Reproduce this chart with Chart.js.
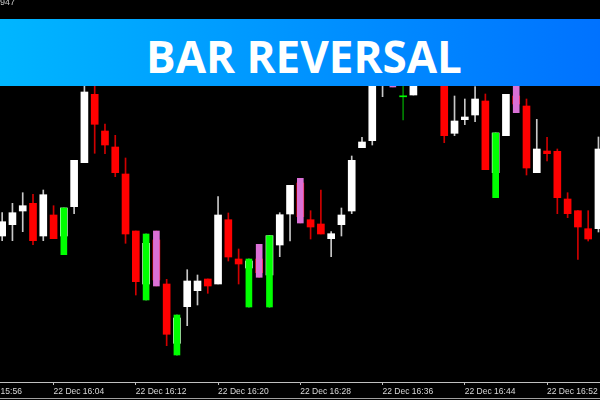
<!DOCTYPE html>
<html>
<head>
<meta charset="utf-8">
<script src="https://cdn.jsdelivr.net/npm/chart.js@4.4.1/dist/chart.umd.min.js"></script>
<style>
	body { margin: 0; background: #000; }
	#wrap { position: relative; width: 600px; height: 400px; overflow: hidden; background: #000; }
	#mycanvas { position: absolute; left: 0; top: 0; }
	#price { position: absolute; left: 0; top: -3px; font: 9px 'Liberation Sans', sans-serif; color: #c8c8c8; }
	#banner { position: absolute; left: 0; top: 19px; width: 600px; height: 67px; background: linear-gradient(to right, #00b6ff, #0090ff 55%, #0072ff); }
	#title { position: absolute; left: 0; width: 600px; top: 26px; line-height: 44px; text-align: center; padding-left: 8px; box-sizing: border-box;
		font: 700 44px 'Open Sans', sans-serif; color: #fff; }
	#bottomline { position: absolute; left: 0; top: 398px; width: 600px; height: 1px; background: #a0a0a0; }
</style>
</head>
<body>
<div id="wrap">
	<canvas id="mycanvas" width="600" height="400"></canvas>
	<div id="price">947</div>
	<div id="banner"></div>
	<div id="title">BAR REVERSAL</div>
	<div id="bottomline"></div>
</div>
<script>
// M1 bars, 22 Dec 15:59 - 16:57
var times = ["15:59","16:00","16:01","16:02","16:03","16:04","16:05","16:06","16:07","16:08",
	"16:09","16:10","16:11","16:12","16:13","16:14","16:15","16:16","16:17","16:18",
	"16:19","16:20","16:21","16:22","16:23","16:24","16:25","16:26","16:27","16:28",
	"16:29","16:30","16:31","16:32","16:33","16:34","16:35","16:36","16:37","16:38",
	"16:39","16:40","16:41","16:42","16:43","16:44","16:45","16:46","16:47","16:48",
	"16:49","16:50","16:51","16:52","16:53","16:54","16:55","16:56","16:57"];

var open = [146,157.3,171,178.7,146,167,146,175.3,219.3,287.7,
	251,235,208,151,98,142,98,38.7,75.3,91.3,
	103,98,162.3,123,114,123,107,137,168,199,
	162.3,158,143.3,157.3,171,234.3,241.3,300,325,285.7,
	287,305,315,300,248.7,262.3,267,281,209.3,246.3,
	286,276,209.3,231,230.7,183,171.3,153.3,153.3];

var high = [169.3,178.7,189.3,187.7,192,176.3,174,221.7,300,298,
	258,246.7,224,151,148,151,102.7,67,112.3,107,
	103,185.3,169,133,123,137.7,146.3,169.3,196.7,203.7,
	171.3,192,150.3,174,226,244.7,305,320,332,310,
	310,322,320,305,286,283,295.3,288,249,287.7,
	300,283,262.7,244.7,233,189.3,171.3,171.3,245];

var low = [141.3,141.3,150.3,137.3,141.3,143.3,127.3,168.3,219.3,228.7,
	228.3,205.3,138.7,87,82,96,36.3,27,56.3,77,
	88.7,98,121,98,75,104.7,75,125.3,141,159,
	143,148,125.3,146,168.3,234.3,237,285.3,295,262,
	287,300,298,239.3,246.3,257.3,260.3,212.3,184.3,246.3,
	269.3,207,209.3,221,168.3,164.3,122.7,141,150];

var close = [160.3,169.3,176.3,141.3,187.3,143.3,174,221.7,290,257.7,
	237,209.3,148,100.3,138.7,102,47.7,64,101,101,
	96,167,125,118,121,109.3,146.3,167.3,196.7,165.3,
	155,148,148.3,167,221.7,240,300,315,300,285.7,
	305,315,300,246.3,261,265,283,212.3,249,287.7,
	278,214,233,228.3,184.3,168.3,155,143,233];

// reversal bars
var bullRev = ["16:05","16:13","16:16","16:23","16:25","16:47"];
var bearRev = ["16:14","16:24","16:28","16:37","16:49"];

var tickLabels = ["22 Dec 15:56","22 Dec 16:04","22 Dec 16:12","22 Dec 16:20","22 Dec 16:28",
	"22 Dec 16:36","22 Dec 16:44","22 Dec 16:52"];

function toMin(t){
	var p = t.split(":");
	return (parseInt(p[0]) - 16) * 60 + parseInt(p[1]);
}

var tickPos = tickLabels.map(function(l){ return toMin(l.slice(7)); });

var wicks = [], bodies = [], wickColors = [], bodyColors = [];
var bullBars = [], bearBars = [];

for(var i in times){
	var x = toMin(times[i]);
	wicks.push({x: x, y: [low[i], high[i]]});
	if(close[i] > open[i]){
		bodies.push({x: x, y: [open[i], close[i]]});
		bodyColors.push("#ffffff");
		wickColors.push("#c8c8c8");
	}else if(close[i] < open[i]){
		bodies.push({x: x, y: [close[i], open[i]]});
		bodyColors.push("#ff0000");
		wickColors.push("#d00000");
	}else{
		bodies.push({x: x, y: [open[i] - 0.5, open[i] + 0.5]});
		bodyColors.push("#00ff00");
		wickColors.push("#008000");
	}
	if(bullRev.indexOf(times[i]) >= 0) bullBars.push({x: x, y: [low[i], high[i]]});
	if(bearRev.indexOf(times[i]) >= 0) bearBars.push({x: x, y: [low[i], high[i]]});
}

var ctx = document.getElementById("mycanvas");

var chart = new Chart(ctx, {
	type: 'bar',
	data: {
		datasets: [
			{ label: "bull", data: bullBars, backgroundColor: "#00ff00", barThickness: 6, grouped: false, order: 0 },
			{ label: "bear", data: bearBars, backgroundColor: "#da70d6", barThickness: 6, grouped: false, order: 0 },
			{ label: "body", data: bodies, backgroundColor: bodyColors, barThickness: 7, grouped: false, order: 1 },
			{ label: "wick", data: wicks, backgroundColor: wickColors, barThickness: 1, grouped: false, order: 2 }
		]
	},
	options: {
		responsive: false,
		animation: false,
		events: [],
		layout: { padding: 0 },
		plugins: { legend: { display: false }, tooltip: { enabled: false } },
		scales: {
			x: {
				type: 'linear',
				min: -1.21,
				max: 57.15,
				offset: false,
				border: { display: true, color: "#c0c0c0", width: 1 },
				grid: { display: true, offset: false, drawOnChartArea: false, drawTicks: true, tickLength: 3, color: "#c0c0c0" },
				ticks: {
					align: 'start',
					autoSkip: false,
					maxRotation: 0,
					padding: 2,
					color: "#d8d8d8",
					font: { family: "'Liberation Sans', sans-serif", size: 8.5 },
					callback: function(v){
						var k = tickPos.indexOf(v);
						return k >= 0 ? tickLabels[k] : "";
					}
				},
				afterBuildTicks: function(scale){
					scale.ticks = tickPos.map(function(v){ return {value: v}; });
				},
				afterFit: function(scale){
					scale.height = 18;
					scale.paddingLeft = 0;
					scale.paddingRight = 0;
				}
			},
			y: { display: false, min: 0, max: 382 }
		}
	}
});
</script>
</body>
</html>
